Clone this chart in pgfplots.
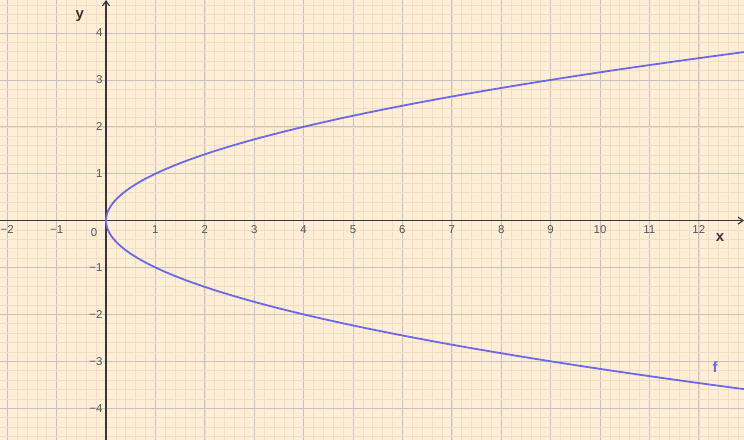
\documentclass[border=0pt]{standalone}
\usepackage{fontspec}
\setmainfont{Liberation Sans}
\usepackage{pgfplots}
\pgfplotsset{compat=1.18}
\usetikzlibrary{arrows.meta}
\definecolor{bg}{RGB}{254,238,214}
\definecolor{majgrid}{RGB}{198,194,188}
\definecolor{mingrid}{RGB}{240,222,198}
\definecolor{curvecol}{RGB}{108,104,232}
\definecolor{axcol}{RGB}{55,55,55}
\definecolor{ticklab}{RGB}{85,85,85}
\begin{document}
\begin{tikzpicture}
\begin{axis}[
  scale only axis, width=744bp, height=440bp,
  xmin=-2.146, xmax=12.915, ymin=-4.678, ymax=4.704,
  axis lines=middle,
  axis line style={axcol, line width=1.1bp, -{Straight Barb[length=5bp,width=7bp]}},
  axis background/.style={fill=bg},
  grid=both,
  major grid style={majgrid, line width=0.8bp},
  minor grid style={mingrid, line width=0.6bp},
  hide obscured x ticks=false, hide obscured y ticks=false,
  xtick={-2,-1,0,1,2,3,4,5,6,7,8,9,10,11,12},
  ytick={-4,-3,-2,-1,0,1,2,3,4},
  xticklabels={−2,−1,{},1,2,3,4,5,6,7,8,9,10,11,12},
  yticklabels={−4,−3,−2,−1,{},1,2,3,4},
  minor xtick={-2.2,-2,...,13},
  minor ytick={-4.8,-4.6,...,4.8},
  major tick length=0pt, minor tick length=0pt,
  tick label style={font=\fontsize{11.5}{13}\selectfont, text=ticklab},
  xticklabel style={anchor=north, yshift=-1bp},
  yticklabel style={anchor=east, xshift=0bp},
  clip=true,
]
\addplot[curvecol, line width=1.8bp, line join=round] coordinates {
(13.69,-3.7) (12.96,-3.6) (12.25,-3.5) (11.56,-3.4) (10.89,-3.3) (10.24,-3.2) (9.61,-3.1) (9,-3) (8.41,-2.9) (7.84,-2.8) (7.29,-2.7) (6.76,-2.6) (6.25,-2.5) (5.76,-2.4) (5.29,-2.3) (4.84,-2.2) (4.41,-2.1) (4,-2) (3.61,-1.9) (3.24,-1.8) (2.89,-1.7) (2.56,-1.6) (2.25,-1.5) (1.96,-1.4) (1.69,-1.3) (1.44,-1.2) (1.21,-1.1) (1,-1) (0.81,-0.9) (0.64,-0.8) (0.49,-0.7) (0.36,-0.6) (0.25,-0.5) (0.16,-0.4) (0.1225,-0.35) (0.09,-0.3) (0.0625,-0.25) (0.04,-0.2) (0.0225,-0.15) (0.01,-0.1) (0.0025,-0.05) (0,0)
(0.0025,0.05) (0.01,0.1) (0.0225,0.15) (0.04,0.2) (0.0625,0.25) (0.09,0.3) (0.1225,0.35) (0.16,0.4) (0.25,0.5) (0.36,0.6) (0.49,0.7) (0.64,0.8) (0.81,0.9) (1,1) (1.21,1.1) (1.44,1.2) (1.69,1.3) (1.96,1.4) (2.25,1.5) (2.56,1.6) (2.89,1.7) (3.24,1.8) (3.61,1.9) (4,2) (4.41,2.1) (4.84,2.2) (5.29,2.3) (5.76,2.4) (6.25,2.5) (6.76,2.6) (7.29,2.7) (7.84,2.8) (8.41,2.9) (9,3) (9.61,3.1) (10.24,3.2) (10.89,3.3) (11.56,3.4) (12.25,3.5) (12.96,3.6) (13.69,3.7)
};
\node[text=curvecol, font=\bfseries\fontsize{15}{16}\selectfont] at (axis cs:12.33,-3.12) {f};
\node[text=axcol, font=\bfseries\fontsize{15}{16}\selectfont] at (axis cs:12.43,-0.37) {x};
\node[text=axcol, font=\bfseries\fontsize{15}{16}\selectfont] at (axis cs:-0.53,4.36) {y};
\node[text=ticklab, font=\fontsize{11.5}{13}\selectfont] at (axis cs:-0.24,-0.25) {0};
\end{axis}
\pgfresetboundingbox
\useasboundingbox (current axis.south west) rectangle (current axis.north east);
\end{tikzpicture}
\end{document}
